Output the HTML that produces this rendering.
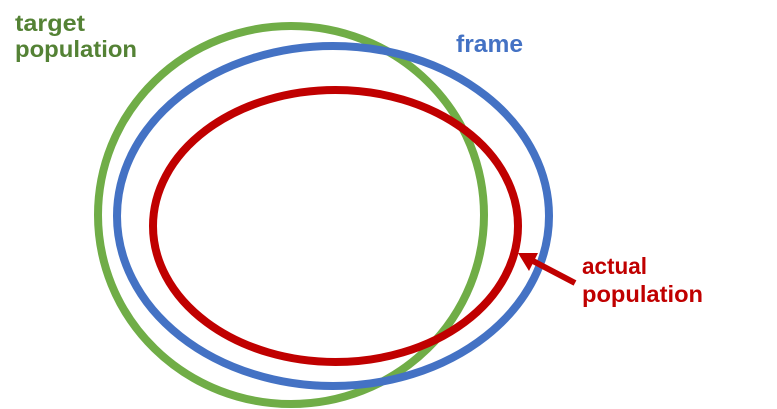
<!DOCTYPE html>
<html>
<head>
<meta charset="utf-8">
<style>
html,body{margin:0;padding:0;background:#fff;}
body{width:777px;height:409px;overflow:hidden;}
svg{display:block;}
text{font-family:"Liberation Sans",sans-serif;font-weight:bold;}
</style>
</head>
<body>
<svg width="777" height="409" viewBox="0 0 777 409" xmlns="http://www.w3.org/2000/svg">
  <rect width="777" height="409" fill="#fff"/>
  <ellipse cx="291" cy="215" rx="193" ry="189" fill="none" stroke="#70AD47" stroke-width="8"/>
  <ellipse cx="333" cy="216" rx="216" ry="170" fill="none" stroke="#4472C4" stroke-width="8"/>
  <ellipse cx="335.5" cy="226" rx="182.5" ry="136" fill="none" stroke="#C00000" stroke-width="8"/>
  <line x1="533" y1="261" x2="575" y2="283" stroke="#C00000" stroke-width="6"/>
  <polygon points="518,253 538,253 529,271" fill="#C00000"/>
  <text x="15" y="31" font-size="23" fill="#548235" textLength="70" lengthAdjust="spacingAndGlyphs">target</text>
  <text x="15" y="57" font-size="23" fill="#548235" textLength="122" lengthAdjust="spacingAndGlyphs">population</text>
  <text x="456" y="52" font-size="24" fill="#4472C4" textLength="67" lengthAdjust="spacingAndGlyphs">frame</text>
  <text x="582" y="274" font-size="23" fill="#C00000" textLength="65" lengthAdjust="spacingAndGlyphs">actual</text>
  <text x="582" y="302" font-size="23" fill="#C00000" textLength="121" lengthAdjust="spacingAndGlyphs">population</text>
</svg>
</body>
</html>
